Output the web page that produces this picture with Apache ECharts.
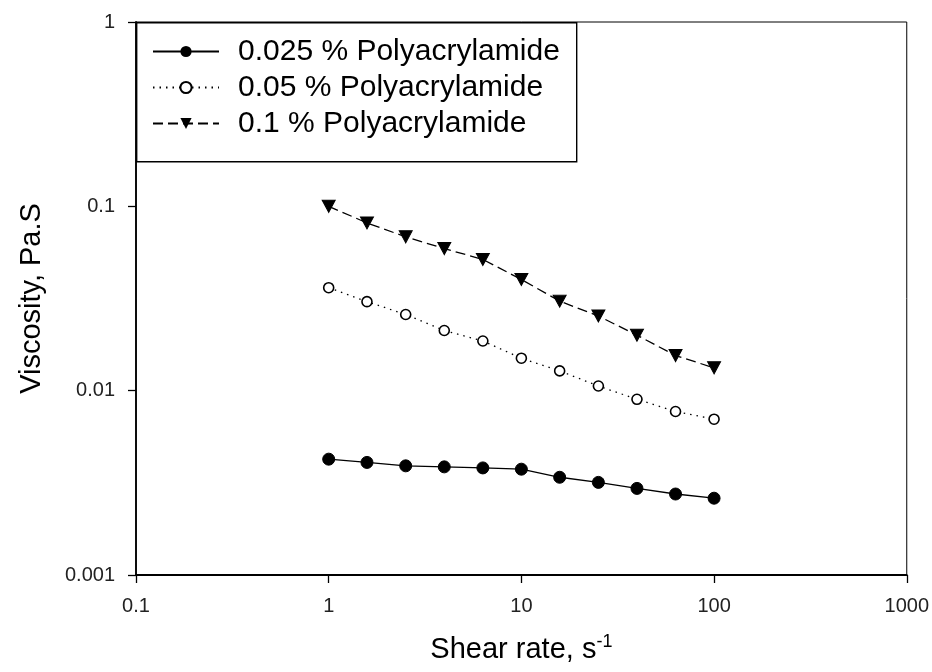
<!DOCTYPE html>
<html>
<head>
<meta charset="utf-8">
<script src="https://cdn.jsdelivr.net/npm/echarts@6/dist/echarts.min.js"></script>
<style>html,body{margin:0;padding:0;background:#fff}#c{width:932px;height:672px}</style>
</head>
<body>
<div id="c"></div>
<script>
const shearRate = [1, 1.58, 2.51, 3.98, 6.31, 10, 15.8, 25.1, 39.8, 63.1, 100];
const pam0025 = [0.00425, 0.00408, 0.00391, 0.00386, 0.00381, 0.00375, 0.00339, 0.00318, 0.00295, 0.00275, 0.00261];
const pam005 = [0.0362, 0.0304, 0.0259, 0.0212, 0.0186, 0.0150, 0.0128, 0.0106, 0.00898, 0.00771, 0.00700];
const pam01 = [0.100, 0.0813, 0.0683, 0.0590, 0.0515, 0.0401, 0.0306, 0.0254, 0.0200, 0.0155, 0.0133];
const seriesNames = ['0.025 % Polyacrylamide', '0.05 % Polyacrylamide', '0.1 % Polyacrylamide'];
const xTickLabels = ['0.1', '1', '10', '100', '1000'];
const yTickLabels = ['0.001', '0.01', '0.1', '1'];

const pair = (ys) => shearRate.map((x, i) => [x, ys[i]]);
const font = 'Liberation Sans, Arial, sans-serif';
const fmt = (labels) => (v) => {
  const hit = labels.find(l => Math.abs(Math.log10(parseFloat(l)) - Math.log10(v)) < 1e-6);
  return hit !== undefined ? hit : '';
};

const chart = echarts.init(document.getElementById('c'), null, {renderer: 'canvas'});
chart.setOption({
  animation: false,
  backgroundColor: '#fff',
  grid: {left: 136, right: 23, top: 22, bottom: 97, show: true, borderColor: '#000', borderWidth: 1, backgroundColor: 'transparent'},
  graphic: [{
    type: 'rect', left: 136, top: 22, z: 5,
    shape: {width: 440, height: 139},
    style: {fill: '#fff', stroke: '#000', lineWidth: 1.4}
  }],
  legend: {
    left: 136, top: 22, z: 10,
    orient: 'vertical',
    data: seriesNames,
    itemWidth: 66, itemHeight: 14, itemGap: 5,
    padding: [14, 8, 20, 16],
    textStyle: {fontFamily: font, fontSize: 30, lineHeight: 31, color: '#000', padding: [0, 0, 0, 14]}
  },
  xAxis: {
    type: 'log', logBase: 10, min: 0.1, max: 1000,
    name: 'Shear rate, s{sup|-1}', nameLocation: 'middle', nameGap: 58,
    nameTextStyle: {fontFamily: font, fontSize: 29, color: '#000',
      rich: {sup: {fontFamily: font, fontSize: 18, color: '#000', padding: [0, 0, 16, 0]}}},
    axisLine: {lineStyle: {color: '#000', width: 1.8}},
    axisTick: {inside: false, length: 8, lineStyle: {color: '#000', width: 1.3}},
    axisLabel: {fontFamily: font, fontSize: 20, color: '#222', margin: 21, formatter: fmt(xTickLabels)},
    splitLine: {show: false}, minorTick: {show: false}
  },
  yAxis: {
    type: 'log', logBase: 10, min: 0.001, max: 1,
    name: 'Viscosity, Pa.S', nameLocation: 'middle', nameGap: 90, nameRotate: 90,
    nameTextStyle: {fontFamily: font, fontSize: 29, color: '#000'},
    axisLine: {lineStyle: {color: '#000', width: 1.8}},
    axisTick: {inside: false, length: 8, lineStyle: {color: '#000', width: 1.3}},
    axisLabel: {fontFamily: font, fontSize: 20, color: '#222', margin: 21, formatter: fmt(yTickLabels)},
    splitLine: {show: false}, minorTick: {show: false}
  },
  series: [
    {name: seriesNames[0], type: 'line', data: pair(pam0025), symbol: 'circle', symbolSize: 12,
     itemStyle: {color: '#000', borderColor: '#000'}, lineStyle: {color: '#000', width: 1.3, type: 'solid'}},
    {name: seriesNames[1], type: 'line', data: pair(pam005), symbol: 'circle', symbolSize: 10,
     itemStyle: {color: '#fff', borderColor: '#000', borderWidth: 1.6}, lineStyle: {color: '#000', width: 1.3, type: [1.5, 5]}},
    {name: seriesNames[2], type: 'line', data: pair(pam01), symbol: 'triangle', symbolSize: [13, 12], symbolRotate: 180,
     itemStyle: {color: '#000', borderColor: '#000'}, lineStyle: {color: '#000', width: 1.3, type: [10, 5]}}
  ]
});
</script>
</body>
</html>
